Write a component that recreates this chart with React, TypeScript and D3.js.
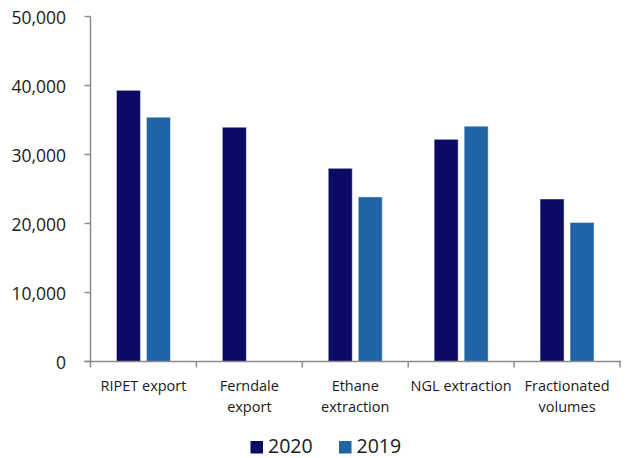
import React from "react";
import * as d3 from "d3";

const categories: string[][] = [
  ["RIPET export"],
  ["Ferndale", "export"],
  ["Ethane", "extraction"],
  ["NGL extraction"],
  ["Fractionated", "volumes"],
];
const seriesNames = ["2020", "2019"];
const values2020 = [39300, 33950, 28000, 32200, 23550];
const values2019 = [35400, 0, 23850, 34100, 20150];
const yTicks = [0, 10000, 20000, 30000, 40000, 50000];
const colors = ["#0B0B66", "#1F64A5"];

const W = 628;
const H = 458;
const left = 90.5;
const right = 620;
const top = 16.5;
const bottom = 361.5;

export default function App() {
  const x = d3
    .scaleBand<number>()
    .domain(d3.range(categories.length))
    .range([left, right])
    .padding(0);
  const step = 30;
  const po = (x.bandwidth() / step - 1.8) / 2;
  const xi = d3
    .scaleBand<number>()
    .domain([0, 1])
    .range([0, x.bandwidth()])
    .paddingInner(0.2)
    .paddingOuter(po);
  const y = d3.scaleLinear().domain([0, 50000]).range([bottom, top]);
  const fmt = d3.format(",");
  const series = [values2020, values2019];
  const font = "'Open Sans', 'Segoe UI', sans-serif";
  const axisColor = "#8c8c8c";

  return (
    <svg
      width={W}
      height={H}
      style={{ position: "absolute", left: 0, top: 0, background: "#fff" }}
      fontFamily={font}
    >
      {series.map((vals, si) =>
        vals.map((v, ci) =>
          v > 0 ? (
            <rect
              key={`${si}-${ci}`}
              x={(x(ci) as number) + (xi(si) as number)}
              y={y(v)}
              width={xi.bandwidth()}
              height={y(0) - y(v)}
              fill={colors[si]}
              stroke="#ffffff"
              strokeOpacity={0.45}
              strokeWidth={1}
            />
          ) : null
        )
      )}
      {/* y axis */}
      <line x1={left} x2={left} y1={y(50000)} y2={bottom} stroke={axisColor} strokeWidth={1.5} />
      {yTicks.map((t) => (
        <g key={t}>
          <line x1={left - 6} x2={left} y1={y(t)} y2={y(t)} stroke={axisColor} strokeWidth={1.5} />
          <text
            x={66}
            y={y(t)}
            textAnchor="end"
            dominantBaseline="central"
            fontSize={17.5}
            fill="#1a1a1a"
          >
            {fmt(t)}
          </text>
        </g>
      ))}
      {/* x axis */}
      <line x1={left - 6} x2={right + 1} y1={bottom} y2={bottom} stroke={axisColor} strokeWidth={1.5} />
      {d3.range(categories.length + 1).map((i) => {
        const xx = i < categories.length ? (x(i) as number) : right;
        return (
          <line key={i} x1={xx} x2={xx} y1={bottom} y2={bottom + 6} stroke={axisColor} strokeWidth={1.5} />
        );
      })}
      {categories.map((lines, ci) => (
        <text
          key={ci}
          x={(x(ci) as number) + x.bandwidth() / 2}
          textAnchor="middle"
          fontSize={14.5}
          fill="#1a1a1a"
        >
          {lines.map((l, li) => (
            <tspan key={li} x={(x(ci) as number) + x.bandwidth() / 2} y={390.5 + li * 21}>
              {l}
            </tspan>
          ))}
        </text>
      ))}
      {/* legend */}
      {seriesNames.map((n, i) => {
        const lx = 250.5 + i * 88.5;
        return (
          <g key={n}>
            <rect x={lx} y={441} width={12.5} height={12.5} fill={colors[i]} />
            <text x={lx + 17.5} y={453.2} fontSize={19.5} fill="#1a1a1a">
              {n}
            </text>
          </g>
        );
      })}
    </svg>
  );
}
